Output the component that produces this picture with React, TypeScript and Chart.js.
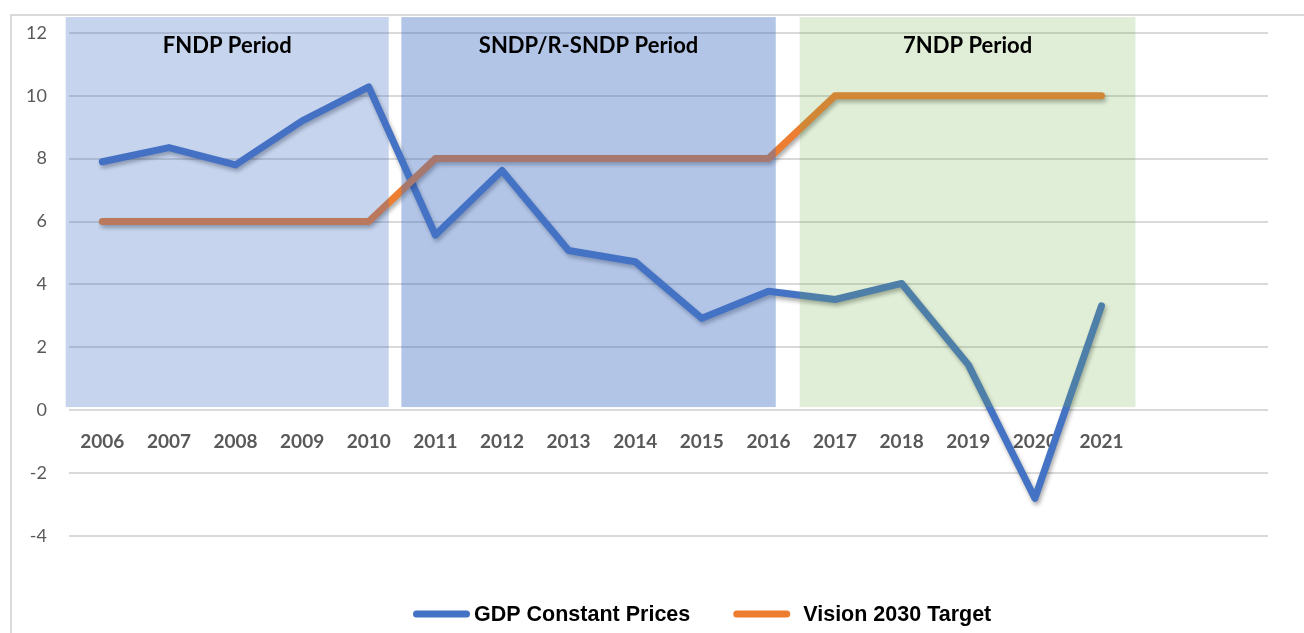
import React, { useEffect, useRef } from 'react';
import { Chart, registerables } from 'chart.js';

Chart.register(...registerables);

// ---- data ----
const years = ['2006', '2007', '2008', '2009', '2010', '2011', '2012', '2013', '2014', '2015', '2016', '2017', '2018', '2019', '2020', '2021'];
const axisLabels = [...years, '', ''];
const gdpConstantPrices = [7.9, 8.35, 7.8, 9.2, 10.28, 5.57, 7.62, 5.08, 4.72, 2.92, 3.78, 3.52, 4.03, 1.45, -2.8, 3.32];
const vision2030Target = [6, 6, 6, 6, 6, 8, 8, 8, 8, 8, 8, 10, 10, 10, 10, 10];
const seriesNames = ['GDP Constant Prices', 'Vision 2030 Target'];
const periodNames = ['FNDP Period', 'SNDP/R-SNDP Period', '7NDP Period'];
const periodFrom = [-0.55, 4.49, 10.47];
const periodTo = [4.3, 10.11, 15.51];
const yMin = -4;
const yMax = 12;
const yStep = 2;

const BLUE = '#4472c4';
const ORANGE = '#ed7d31';
const periodFills = ['rgba(68,114,196,0.30)', 'rgba(68,114,196,0.41)', 'rgba(112,173,71,0.22)'];

const decorPlugin = {
  id: 'decor',
  beforeDraw(chart: any) {
    const ctx = chart.ctx;
    ctx.save();
    ctx.strokeStyle = '#d9d9d9';
    ctx.lineWidth = 2;
    ctx.beginPath();
    ctx.moveTo(11, 633);
    ctx.lineTo(11, 15);
    ctx.lineTo(1304, 15);
    ctx.stroke();
    ctx.restore();
  },
  beforeDatasetsDraw(chart: any) {
    const ctx = chart.ctx;
    ctx.save();
    ctx.shadowColor = 'rgba(0,0,0,0.35)';
    ctx.shadowBlur = 4;
    ctx.shadowOffsetX = 1.5;
    ctx.shadowOffsetY = 3;
  },
  afterDatasetsDraw(chart: any) {
    const ctx = chart.ctx;
    ctx.restore();
    const x = chart.scales.x;
    const y = chart.scales.y;
    const top = y.getPixelForValue(12.5);
    const bottom = y.getPixelForValue(0.1);
    ctx.save();
    periodNames.forEach((name, i) => {
      const l = x.getPixelForValue(periodFrom[i]);
      const r = x.getPixelForValue(periodTo[i]);
      ctx.fillStyle = periodFills[i];
      ctx.fillRect(l, top, r - l, bottom - top);
      ctx.fillStyle = '#000000';
      ctx.font = 'bold 22px Lato';
      ctx.textAlign = 'center';
      ctx.textBaseline = 'middle';
      ctx.fillText(name, (l + r) / 2, y.getPixelForValue(12) + 13);
    });
    ctx.restore();
  },
  afterDraw(chart: any) {
    const ctx = chart.ctx;
    ctx.save();
    ctx.font = 'bold 21.5px "Liberation Sans"';
    ctx.textBaseline = 'middle';
    ctx.textAlign = 'left';
    const lineW = 57;
    const gapText = [4, 13];
    const gapItems = 43;
    let cx = 413;
    const cy = 614;
    chart.data.datasets.forEach((d: any, i: number) => {
      ctx.strokeStyle = d.borderColor;
      ctx.lineWidth = 7;
      ctx.lineCap = 'round';
      ctx.beginPath();
      ctx.moveTo(cx + 3.5, cy);
      ctx.lineTo(cx + lineW - 3.5, cy);
      ctx.stroke();
      cx += lineW + gapText[i];
      ctx.fillStyle = '#000000';
      ctx.fillText(d.label, cx, cy + 1);
      cx += ctx.measureText(d.label).width + gapItems;
    });
    ctx.restore();
  },
};

export default function App() {
  const ref = useRef<HTMLCanvasElement>(null);
  useEffect(() => {
    if (!ref.current) return;
    Chart.defaults.font.family = 'Lato';
    const chart = new Chart(ref.current, {
      type: 'line',
      data: {
        labels: axisLabels,
        datasets: [
          {
            label: seriesNames[0],
            data: gdpConstantPrices,
            borderColor: BLUE,
            backgroundColor: BLUE,
            borderWidth: 7,
            pointRadius: 0,
            tension: 0,
            borderCapStyle: 'round',
            borderJoinStyle: 'round',
            order: 2,
          },
          {
            label: seriesNames[1],
            data: vision2030Target,
            borderColor: ORANGE,
            backgroundColor: ORANGE,
            borderWidth: 7,
            pointRadius: 0,
            tension: 0,
            borderCapStyle: 'round',
            borderJoinStyle: 'round',
            order: 1,
          },
        ],
      },
      options: {
        animation: false,
        responsive: false,
        layout: { padding: { top: 31, right: 36, bottom: 97, left: 0 } },
        plugins: { legend: { display: false }, tooltip: { enabled: false } },
        scales: {
          x: {
            position: { y: 0 } as any,
            offset: true,
            grid: { display: false, offset: true },
            border: { display: false },
            ticks: {
              color: '#595959',
              font: { family: 'Lato', size: 19, weight: 'bold' },
              padding: 12,
              maxRotation: 0,
              autoSkip: false,
            },
          },
          y: {
            min: yMin,
            max: yMax,
            afterFit: (s: any) => { s.width = 69; },
            grid: { color: '#d9d9d9', lineWidth: 2, drawTicks: false },
            border: { display: false },
            ticks: {
              stepSize: yStep,
              color: '#595959',
              font: { family: 'Lato', size: 18 },
              padding: 22,
            },
          },
        },
      },
      plugins: [decorPlugin],
    });
    return () => chart.destroy();
  }, []);
  return (
    <div style={{ position: 'absolute', left: 0, top: 0, width: 1304, height: 633, background: '#fff' }}>
      <canvas ref={ref} width={1304} height={633} style={{ display: 'block' }} />
    </div>
  );
}
